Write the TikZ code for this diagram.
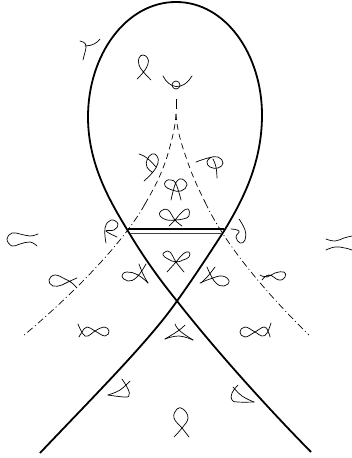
\documentclass[tikz,border=0pt]{standalone}
\tikzset{
  caustic/.style={line width=1.8pt,line join=round},
  glyph/.style={line width=0.7pt,line cap=round,line join=round,smooth,tension=0.75},
  spinodal/.style={line width=0.7pt,dash pattern=on 7pt off 3pt on 1pt off 3pt},
  upper/.style={line width=0.7pt,dash pattern=on 6pt off 4pt}
}
\begin{document}
\begin{tikzpicture}[x=1pt,y=-1pt]
\useasboundingbox (0,0) rectangle (352,458);
% main curve
\coordinate (bl) at (40,453);
\coordinate (br) at (311,452);
\coordinate (x) at (177,301);
\coordinate (top) at (176,2);
\coordinate (ml) at (128,231);
\coordinate (mr) at (224,231);
\draw[caustic] (bl) .. controls (95,395) and (150,340) .. (x)
  .. controls (190,283) and (206,259) .. (mr)
  .. controls (241,203) and (262,165) .. (262,115)
  .. controls (262,55) and (226,2) .. (top)
  .. controls (126,2) and (88,55) .. (88,117)
  .. controls (88,165) and (111,203) .. (ml)
  .. controls (144,258) and (160,280) .. (x)
  .. controls (205,337) and (255,395) .. (br);
\coordinate (ll) at (128,229);
\coordinate (rr) at (224,229);
\coordinate (ll2) at (130,233);
\coordinate (rr2) at (222,233);
\draw[line width=1.5pt] (ll) -- (rr);
\draw[line width=0.8pt,black!75] (ll2) -- (rr2);
% dashed lines
\coordinate (c) at (176,99);
\coordinate (c2) at (176,109);
\draw[line width=0.7pt] (c) -- (c2);
\draw[upper] (176,114) .. controls (175,130) and (171,143) .. (167,157) .. controls (160,178) and (153,190) .. (145,204);
\draw[upper] (176,114) .. controls (177,130) and (181,143) .. (187,160) .. controls (192,175) and (198,188) .. (205,202);
\draw[spinodal] (145,204) .. controls (125,240) and (78,290) .. (23,336);
\draw[spinodal] (205,202) .. controls (225,245) and (268,295) .. (309,335);
% glyphs
\draw[glyph] (80,41) .. controls (90,43) and (85,50) .. (83,60);
\draw[glyph] (85,46) .. controls (92,46) and (97,43) .. (100,39);
\draw[glyph] plot coordinates {(137,79)(143.5,72)(148,64)(147.5,58)(143,55)(139,58)(139,65)(143.5,72)(151,80)};
\draw[glyph] (163,76) .. controls (169,88) and (182,92) .. (192,76);
\draw[line width=0.7pt] (176,85) circle (4);
\draw[glyph] plot coordinates {(139,154)(147,158)(156,167)};
\draw[glyph] plot coordinates {(144,181)(153,172)(158,163)(157,156)(152,154)(147,160)(147,167)(152,172)};
\draw[glyph] plot coordinates {(196,162)(208,158)(218,157)(223,163)(218,168)(210,167)(207,162)(210,158)(213,157)};
\draw[glyph] plot coordinates {(217,178)(216,167)(213,159)};
\draw[glyph] plot coordinates {(171,200)(174,188)(177,181)(182,179)(187,185)(181,191)(172,190)(165,186)(166,181)(171,180)(176,184)(181,200)};
\draw[glyph] plot coordinates {(169,226)(175,220)(182,212)(188,209)(189,216)(183,219)(175,220)(167,220)(160,216)(161,211)(168,210)(175,220)(182,226)};
\draw[glyph] plot coordinates {(167,272)(176,262)(183,254)(189,252)(189,257)(183,260)(176,262)(168,259)(163,255)(165,252)(170,252)(176,262)(184,272)};
\draw[glyph] plot coordinates {(106,243)(105,228)(111,220)(118,224)(114,230)(106,231)(117,237)};
\draw[glyph] plot coordinates {(239,219)(245,230)(245,240)(240,243)(236,237)(239,231)(231,229)};
\draw[glyph] plot coordinates {(38,234)(30,236)(20,234)(12,233)(7,239)(12,246)(20,244)(30,242)(37,246)};
\draw[glyph] plot coordinates {(326,239)(335,241)(344,238)(352,236)};
\draw[glyph] plot coordinates {(326,250)(335,247)(345,248)(352,250)};
\draw[glyph] plot coordinates {(77,278)(68,282)(62,285)(53,286)(49,280)(55,275)(65,279)(72,283)(77,288)};
\draw[glyph] plot coordinates {(146,264)(137,277)(128,281)(122,276)(127,272)(138,275)(148,283)};
\draw[glyph] plot coordinates {(139,264)(143,274)(148,283)};
\draw[glyph] plot coordinates {(207,267)(215,282)(224,286)(229,281)(222,276)(210,279)(200,283)};
\draw[glyph] plot coordinates {(215,267)(208,276)(201,283)};
\draw[glyph] plot coordinates {(260,275)(267,277)(275,273)(284,272)(285,277)(279,280)(269,275)(262,280)};
\draw[glyph] plot coordinates {(78,324)(83,334)(88,336)(95,331)(104,327)(109,331)(105,336)(95,331)(87,327)(82,332)(79,337)};
\draw[glyph] plot coordinates {(271,323)(267,333)(262,336)(255,332)(245,327)(240,332)(245,337)(255,332)(264,327)(268,331)(270,337)};
\draw[glyph] plot coordinates {(175,324)(180,331)(193,340)};
\draw[glyph] plot coordinates {(185,325)(178,331)(165,339)};
\draw[glyph] plot coordinates {(165,339)(179,336)(193,340)};
\draw[glyph] plot coordinates {(130,381)(120,390)(108,395)};
\draw[glyph] plot coordinates {(122,379)(128,389)(129,395)(125,397)(108,395)};
\draw[glyph] plot coordinates {(238,385)(232,393)(232,400)(238,402)(254,402)};
\draw[glyph] plot coordinates {(233,387)(242,396)(254,402)};
\draw[glyph] plot coordinates {(174,437)(182,428)(188,418)(183,409)(177,409)(174,418)(182,428)(189,437)};
\end{tikzpicture}
\end{document}
